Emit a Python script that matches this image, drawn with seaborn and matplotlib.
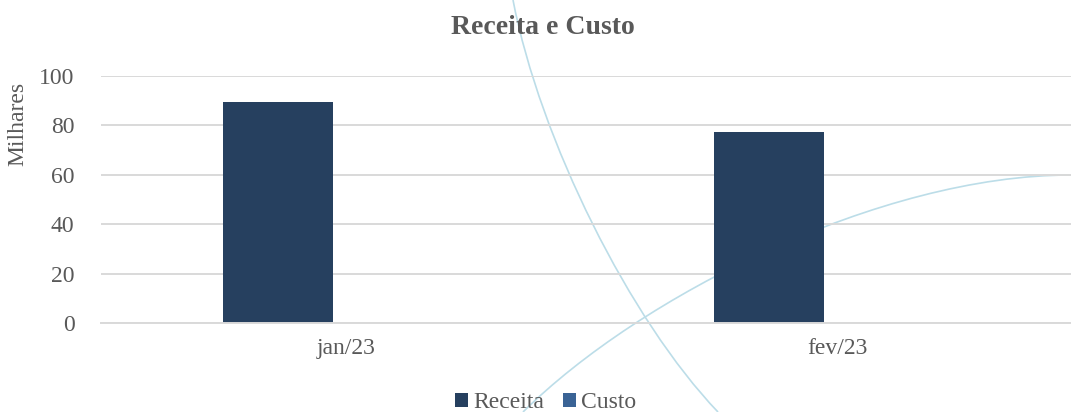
import matplotlib
matplotlib.use("Agg")
import matplotlib.pyplot as plt
from matplotlib.path import Path
from matplotlib.patches import PathPatch
import seaborn as sns
import pandas as pd

# ---- data ----
meses = ["jan/23", "fev/23"]
receita = [89.3, 77.3]
custo = [0.0, 0.0]
series = ["Receita", "Custo"]
yticks = [0, 20, 40, 60, 80, 100]

df = pd.DataFrame({
    "mes": meses * 2,
    "valor": receita + custo,
    "serie": [series[0]] * len(meses) + [series[1]] * len(meses),
})

sns.set_theme(style="white")
plt.rcParams["font.family"] = ["Liberation Serif", "DejaVu Serif"]

W, H = 1071, 412
fig = plt.figure(figsize=(W / 100, H / 100), dpi=100)
ax = fig.add_axes([101 / W, (H - 323) / H, 982 / W, 247 / H])
ax.patch.set_alpha(0)

grey = "#595959"
fs = 17
palette = {"Receita": "#26405F", "Custo": "#3A6395"}
sns.barplot(data=df, x="mes", y="valor", hue="serie", palette=palette,
            width=0.448, dodge=True, ax=ax, legend=True, saturation=1,
            edgecolor="none")

d = 14 / 491
ax.set_xlim(-0.5 + d, 1.5 + d)
ax.set_ylim(0, 100)
ax.set_yticks(yticks)
ax.set_xticks([0 + d, 1 + d])
ax.set_xticklabels(meses)
ax.set_xticks([-0.5 + d, 0.5 + d, 1.5 + d], minor=True)
ax.tick_params(axis="x", which="major", length=0, pad=11, labelsize=fs, labelcolor=grey)
ax.tick_params(axis="x", which="minor", length=5, width=1, color="#D9D9D9")
ax.tick_params(axis="y", length=0, pad=19, labelsize=fs, labelcolor=grey)
ax.yaxis.grid(True, color="#D9D9D9", linewidth=1.4)
ax.set_axisbelow(True)
for s in ["top", "right", "left"]:
    ax.spines[s].set_visible(False)
ax.spines["bottom"].set_color("#D9D9D9")
ax.spines["bottom"].set_linewidth(1.4)
ax.set_xlabel("")
ax.set_ylabel("Milhares", fontsize=fs, color=grey)
ax.yaxis.set_label_coords((28 - 101) / 982, (323 - 124) / 247)

# legend
handles, labels = ax.get_legend_handles_labels()
ax.get_legend().remove()
fig.legend(handles, labels, loc="center", bbox_to_anchor=(546 / W, 1 - 403 / H),
           ncol=2, frameon=False, fontsize=fs, labelcolor=grey,
           handlelength=0.52, handleheight=0.52, handletextpad=0.25,
           columnspacing=0.8, borderpad=0)

# title
fig.text(542.5 / W, 1 - 28 / H, "Receita e Custo", ha="center", va="center",
         fontsize=20, fontweight="bold", color=grey)

# decorative background curves (figure pixel space, y down), behind the plot
def deco(pts):
    verts = [(x / W, 1 - y / H) for x, y in pts]
    p = Path(verts, [Path.MOVETO, Path.CURVE4, Path.CURVE4, Path.CURVE4])
    fig.patches.append(PathPatch(p, transform=fig.transFigure, fill=False,
                                 edgecolor="#BCDDE8", linewidth=1.2, zorder=-1))

deco([(513, 0), (540, 140), (630, 320), (718, 412)])
deco([(523, 412), (640, 296), (880, 175), (1071, 175)])

fig.savefig("out.png", dpi=100)
